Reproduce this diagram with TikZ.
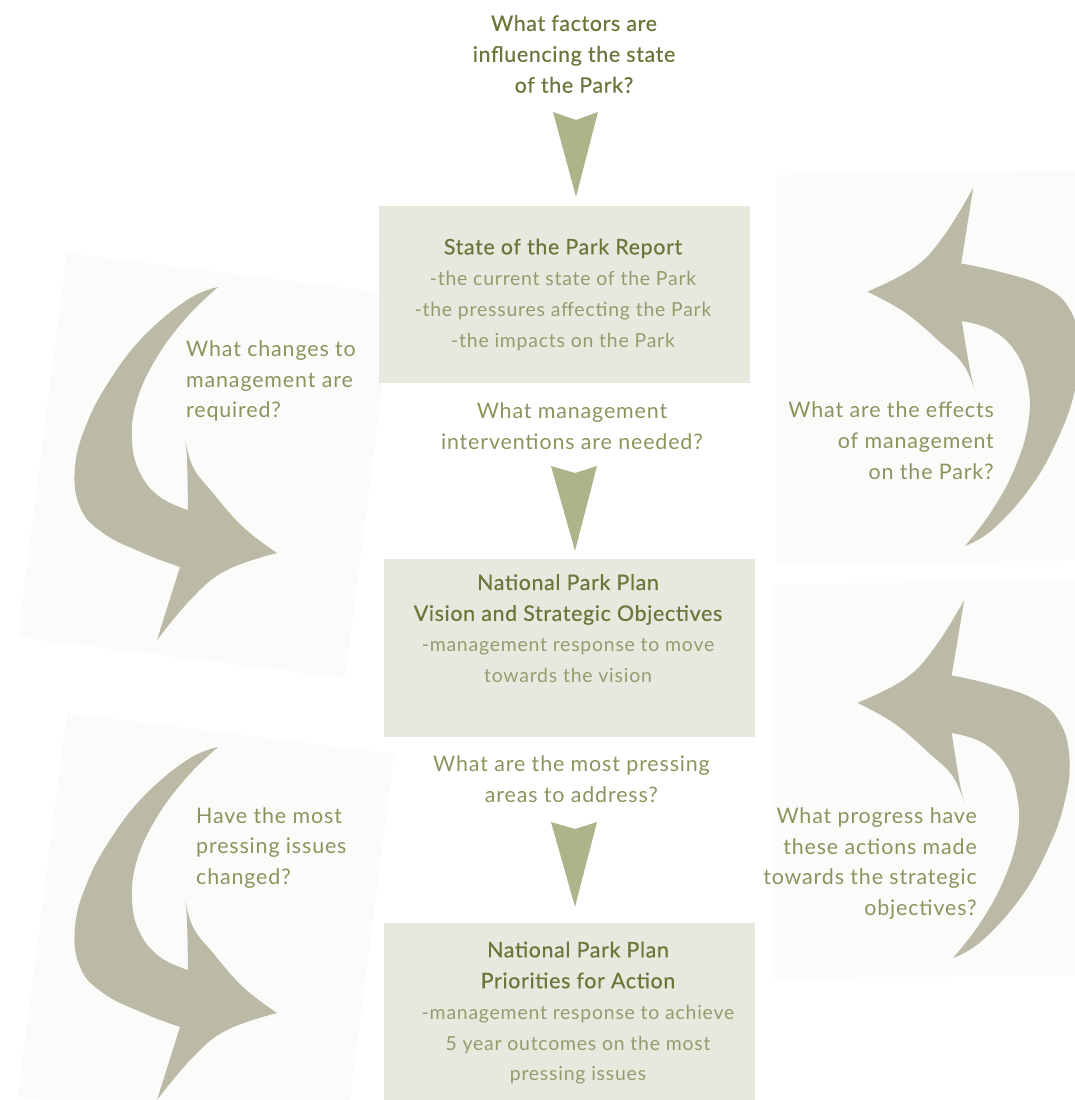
\documentclass[tikz,border=0pt]{standalone}
\usepackage{fontspec}
\setmainfont{Lato}[LetterSpace=4]
\newfontfamily\ttlfam{Lato}[LetterSpace=3, FakeBold=0.5]
\definecolor{boxfill}{HTML}{E8E9DE}
\definecolor{titlecol}{HTML}{6A773A}
\definecolor{bodycol}{HTML}{939C6E}
\definecolor{qcol}{HTML}{8A955E}
\definecolor{downcol}{HTML}{AEB48A}
\definecolor{curvecol}{HTML}{BBBAA6}
\definecolor{panelcol}{HTML}{FBFBFA}
\newcommand{\ttlfont}{\ttlfam\fontsize{21.5}{31}\selectfont}
\tikzset{
  stagebox/.style={fill=boxfill, draw=none, inner sep=0pt},
  txt/.style={font=\fontsize{19.5}{31}\selectfont, inner sep=0pt, align=center},
  qtext/.style={txt, font=\fontsize{21.5}{31}\selectfont, text=qcol},
  downarrow/.style={fill=downcol},
  curvearrow/.style={fill=curvecol},
  panel/.style={fill=panelcol},
}
\newcommand{\ttl}[1]{{\ttlfont\textcolor{titlecol}{#1}}}
\newcommand{\curvedarrowpath}{%
  plot[smooth, tension=0.7] coordinates {(0,0) (-31,13) (-75,50) (-108,93) (-131,136) (-143,180) (-138,220) (-115,246) (-75,266) (-38,280)}
  -- (-61,353)
  -- plot[smooth, tension=0.7] coordinates {(-61,353) (-25,310) (9,283) (59,266)}
  -- plot[smooth, tension=0.7] coordinates {(59,266) (25,240) (-5,206) (-25,180) (-33,151)}
  -- plot[smooth, tension=0.7] coordinates {(-33,151) (-31,173) (-30,223)}
  -- plot[smooth, tension=0.7] coordinates {(-30,223) (-58,210) (-78,186) (-86,153) (-81,113) (-61,70) (-31,30) (0,0)}
  -- cycle}
\begin{document}
\begin{tikzpicture}[x=1bp, y=-1bp]
\useasboundingbox (0,0) rectangle (1075,1100);
\fill[white] (0,0) rectangle (1075,1100);
% faint background panels
\fill[panel] (67,253) -- (394,294) -- (345,678) -- (18,637) -- cycle;
\fill[panel] (67,713) -- (394,754) -- (345,1138) -- (18,1097) -- cycle;
\fill[panel] (776,175) -- (1075,170) -- (1075,560) -- (776,565) -- cycle;
\fill[panel] (773,585) -- (1075,580) -- (1075,975) -- (773,978) -- cycle;
% curved arrows
\begin{scope}[shift={(218,287)}] \fill[curvearrow] \curvedarrowpath; \end{scope}
\begin{scope}[shift={(218,747)}] \fill[curvearrow] \curvedarrowpath; \end{scope}
\begin{scope}[shift={(965,546)}, rotate=188.5] \fill[curvearrow] \curvedarrowpath; \end{scope}
\begin{scope}[shift={(953,958)}, rotate=188] \fill[curvearrow] \curvedarrowpath; \end{scope}
% boxes
\node[stagebox, minimum width=371bp, minimum height=177bp] (b1) at (564.5,294.5) {};
\node[stagebox, minimum width=371bp, minimum height=178bp] (b2) at (569.5,648) {};
\node[stagebox, minimum width=371bp, minimum height=177bp] (b3) at (569.5,1011.5) {};
% box texts
\node[txt, text=bodycol] (b1t) at (563,294.5) {\ttl{State of the Park Report}\\-the current state of the Park\\-the pressures affecting the Park\\-the impacts on the Park};
\node[txt, text=bodycol] (b2t) at (568,628.5) {\ttl{National Park Plan}\\\ttl{Vision and Strategic Objectives}\\-management response to move\\towards the vision};
\node[txt, text=bodycol] (b3t) at (578,1013) {\ttl{National Park Plan}\\\ttl{Priorities for Action}\\-management response to achieve\\5 year outcomes on the most\\pressing issues};
% questions
\node[qtext, font=\ttlfont, text=titlecol] (q0) at (574,54) {What factors are\\influencing the state\\of the Park?};
\node[qtext] (q1) at (572,426.5) {What management\\interventions are needed?};
\node[qtext] (q2) at (571.5,779.5) {What are the most pressing\\areas to address?};
\node[qtext, align=left, anchor=west] (lq1) at (186,381) {What changes to\\management are\\required?};
\node[qtext, align=right, anchor=east] (rq1) at (994,440.5) {What are the effects\\of management\\on the Park?};
\node[qtext, align=left, anchor=west] (lq2) at (196,848) {Have the most\\pressing issues\\changed?};
\node[qtext, align=right, anchor=east] (rq2) at (977,863.5) {What progress have\\these actions made\\towards the strategic\\objectives?};
% down arrows
\coordinate (a0t) at (576,112);
\coordinate (a1t) at (575,466);
\coordinate (a2t) at (575,822);
\fill[downarrow] ([xshift=-23bp]a0t) -- ([yshift=-8bp]a0t) -- ([xshift=22bp]a0t) -- ([yshift=9bp]b1.north -| a0t) -- cycle;
\fill[downarrow] ([xshift=-24bp]a1t) -- ([yshift=-7bp]a1t) -- ([xshift=22bp]a1t) -- ([yshift=8bp]b2.north -| a1t) -- cycle;
\fill[downarrow] ([xshift=-24bp]a2t) -- ([yshift=-7bp]a2t) -- ([xshift=22bp]a2t) -- ([yshift=16bp]b3.north -| a2t) -- cycle;
\end{tikzpicture}
\end{document}
